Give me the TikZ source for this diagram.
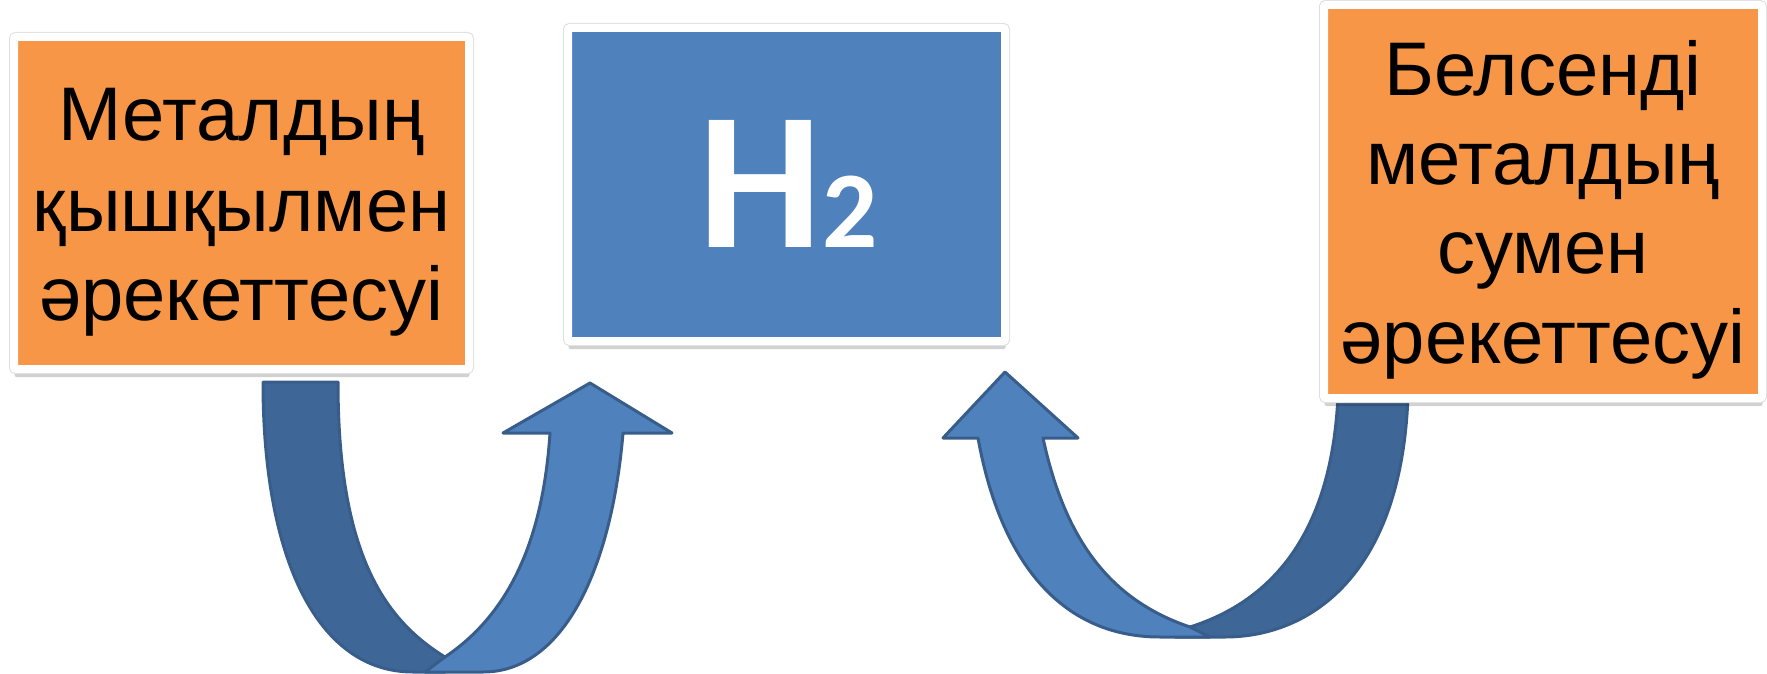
\documentclass[tikz,border=0pt]{standalone}
\usepackage{fontspec}
\setmainfont{Liberation Sans}
\newfontfamily\hfont{Carlito}
\usetikzlibrary{shadows}
\definecolor{orng}{HTML}{F79646}
\definecolor{blu}{HTML}{4F81BD}
\definecolor{dblu}{HTML}{3E6696}
\definecolor{edgeblu}{HTML}{385D8A}
\begin{document}
\begin{tikzpicture}[x=1pt,y=-1pt,
  boxframe/.style={draw=white, line width=8pt, rounded corners=2pt, inner sep=0pt,
    drop shadow={shadow xshift=0.5pt, shadow yshift=-8pt, opacity=0.18, fill=black},
    preaction={draw=black!13, line width=10pt}},
  lbl/.style={anchor=base, inner sep=0pt, font=\fontsize{76}{90}\selectfont},
  band/.style={draw=edgeblu, line width=3pt, line join=round}]
\useasboundingbox (0,0) rectangle (1767,674);

% right arrow (drawn first, under the right box)
\path[band, fill=dblu] (1338,395) -- (1408,395)
  .. controls (1402,575) and (1310,637) .. (1225,637) -- (1175,637) -- (1190,627)
  .. controls (1275,600) and (1332,530) .. (1338,395) -- cycle;
\path[band, fill=blu] (978,438) .. controls (1000,560) and (1060,637) .. (1160,637)
  -- (1210,637) -- (1190,627)
  .. controls (1110,600) and (1065,540) .. (1043,438)
  -- (1078,438) -- (1005,372) -- (943,438) -- cycle;

% left arrow
\path[band, fill=dblu] (263,382) -- (338,382)
  .. controls (338,555) and (385,620) .. (445,657) -- (445,672) -- (413,672)
  .. controls (318,672) and (263,560) .. (263,382) -- cycle;
\path[band, fill=blu] (445,657) .. controls (500,620) and (542,555) .. (550,433)
  -- (503,433) -- (590,383) -- (672,433) -- (623,433)
  .. controls (612,565) and (565,672) .. (483,672) -- (425,672) -- cycle;

% boxes
\node[boxframe, fill=orng, minimum width=455pt, minimum height=332pt] (lbox) at (241.5,203) {};
\node[boxframe, fill=blu, minimum width=437pt, minimum height=313pt] (mbox) at (786.5,184.5) {};
\node[boxframe, fill=orng, minimum width=438pt, minimum height=393pt] (rbox) at (1543,201.5) {};

% left text
\node[lbl] (l1) at (241.5,141) {Металдың};
\node[lbl] (l2) at (241.5,231) {қышқылмен};
\node[lbl] (l3) at (241.5,320) {әрекеттесуі};

% right text
\node[lbl] (r1) at (1543,96) {Белсенді};
\node[lbl] (r2) at (1543,184) {металдың};
\node[lbl] (r3) at (1543,273) {сумен};
\node[lbl] (r4) at (1543,363) {әрекеттесуі};

% H2
\node[anchor=base, inner sep=0pt, text=white] (h2) at (788,247)
  {\hfont\bfseries\fontsize{196}{196}\selectfont H\fontsize{109}{109}\selectfont 2};
\end{tikzpicture}
\end{document}
